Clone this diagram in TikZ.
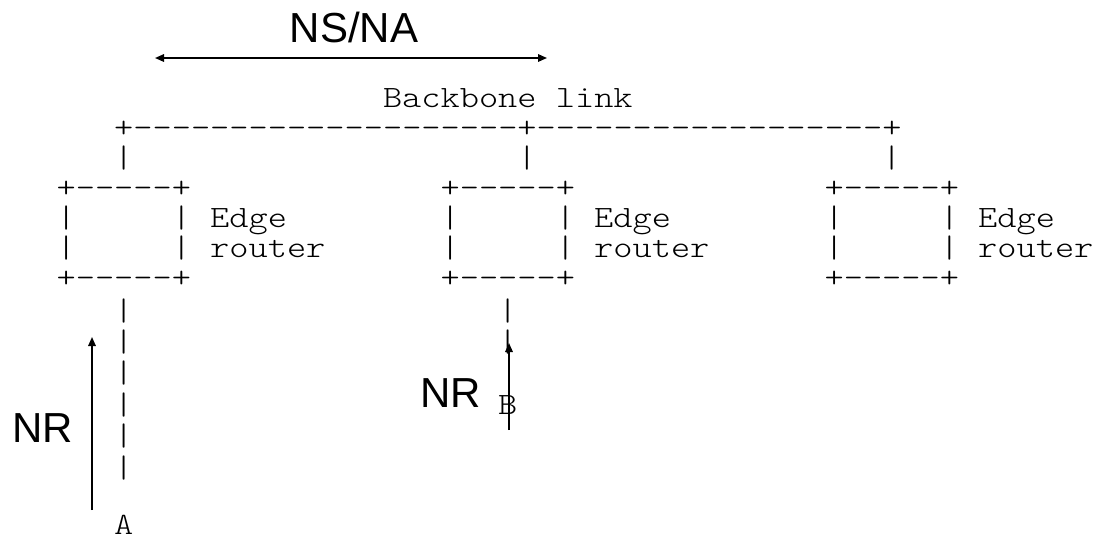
\documentclass[tikz,border=0pt]{standalone}
\usepackage{fontspec}
\setmainfont{Liberation Sans}
\setsansfont{Liberation Sans}
\setmonofont[FakeStretch=1.18]{Latin Modern Mono Light}
\usetikzlibrary{arrows.meta}

% column position of the monospaced grid (left edge of a character cell)
\newcommand\ax[1]{{56.4+19.2*(#1)}}

\tikzset{
  x=1pt, y=-1pt,
  ascii/.style={font=\ttfamily\fontsize{31}{31}\selectfont, inner sep=0pt, anchor=base west},
  lbl/.style={font=\sffamily\fontsize{42}{42}\selectfont, inner sep=0pt, anchor=base},
  flow/.style={line width=1.6pt, -{Triangle[length=9pt,width=7.5pt]}},
  both/.style={line width=1.6pt, {Triangle[length=9pt,width=7.5pt]}-{Triangle[length=9pt,width=7.5pt]}}
}

\begin{document}
\begin{tikzpicture}
\useasboundingbox (0,0) rectangle (1094,539);

% backbone link and the three drops
\node[ascii] (title) at (\ax{17},107) {Backbone link};
\node[ascii] (bb) at (\ax{3},137) {+--------------------+------------------+};
\node[ascii] (d1) at (\ax{3},167) {|};
\node[ascii] (d2) at (\ax{24},167) {|};
\node[ascii] (d3) at (\ax{43},167) {|};

% edge routers
\foreach \c/\n in {0/r1,20/r2,40/r3}{
  \node[ascii] (\n top) at (\ax{\c},197) {+-----+};
  \node[ascii] (\n la) at (\ax{\c},227) {|};
  \node[ascii] (\n ra) at (\ax{\c+6},227) {|};
  \node[ascii] (\n e) at (\ax{\c+8},227) {Edge};
  \node[ascii] (\n lb) at (\ax{\c},257) {|};
  \node[ascii] (\n rb) at (\ax{\c+6},257) {|};
  \node[ascii] (\n r) at (\ax{\c+8},257) {router};
  \node[ascii] (\n bot) at (\ax{\c},287) {+-----+};
}

% access links below the routers
\foreach \k in {0,...,5}{
  \node[ascii] (la\k) at (\ax{3},{320+31.4*\k}) {|};
}
\foreach \k in {0,1}{
  \node[ascii] (lb\k) at (\ax{23},{320+31.4*\k}) {|};
}
\node[ascii] (A) at (\ax{3},534) {A};
\node[ascii] (B) at (\ax{23},414) {B};

% signalling arrows
\coordinate (nsL) at (155,58);
\coordinate (nsR) at (547,58);
\draw[both] (nsL) -- (nsR);
\node[lbl] (nsna) at (354,42) {NS/NA};

\coordinate (nrAs) at (92,510);
\coordinate (nrAe) at (92,337);
\draw[flow] (nrAs) -- (nrAe);
\node[lbl] (nrA) at (42.5,442) {NR};

\coordinate (nrBs) at (509,430);
\coordinate (nrBe) at (509,343);
\draw[flow] (nrBs) -- (nrBe);
\node[lbl] (nrB) at (451,407) {NR};
\end{tikzpicture}
\end{document}
